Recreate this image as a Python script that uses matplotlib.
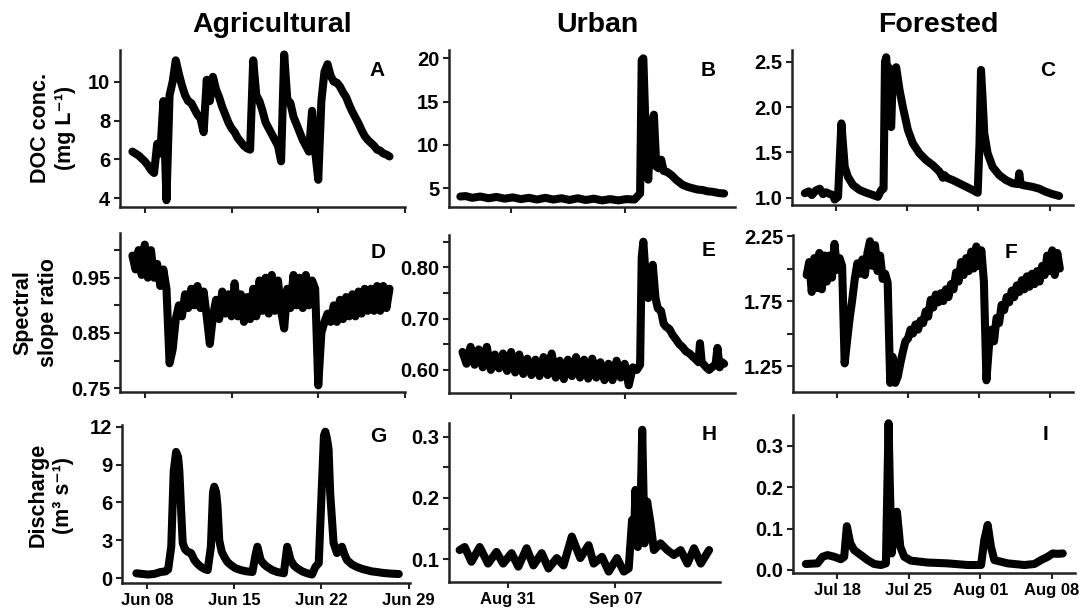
import numpy as np
import matplotlib
matplotlib.use("Agg")
import matplotlib.pyplot as plt
import matplotlib.dates as mdates
from datetime import datetime

plt.rcParams['font.family'] = ['Liberation Sans', 'DejaVu Sans']

W, H = 1092, 612

# ---------------- Agricultural (day of June) ----------------
t_ag = np.arange(7.0, 27.76, 0.25)
doc_ag = [6.4, 6.3, 6.2, 6.05,
          5.9, 5.7, 5.45, 5.3,
          6.8, 6.3, 9.0, 3.9,
          9.3, 10.0, 11.1, 10.4,
          9.8, 9.3, 9.0, 8.9,
          8.6, 8.3, 8.1, 7.4,
          10.1, 9.0, 10.25, 9.6,
          9.2, 8.7, 8.3, 7.9,
          7.6, 7.4, 7.1, 6.9,
          6.7, 6.57, 6.5, 11.1,
          9.3, 9.0, 8.5, 7.9,
          7.6, 7.3, 7.0, 6.7,
          5.9, 11.4, 9.1, 8.9,
          8.2, 7.8, 7.4, 7.0,
          6.7, 6.4, 8.5, 6.4,
          4.95, 9.0, 10.5, 10.9,
          10.3, 10.0, 9.95, 9.75,
          9.45, 9.2, 8.8, 8.45,
          8.15, 7.85, 7.5, 7.2,
          7.0, 6.85, 6.7, 6.5,
          6.45, 6.3, 6.25, 6.15]
ssr_ag = [0.99, 0.965, 1.0, 0.955,
          1.01, 0.95, 1.0, 0.95,
          0.975, 0.935, 0.965, 0.93,
          0.795, 0.82, 0.875, 0.9,
          0.88, 0.92, 0.895, 0.93,
          0.9, 0.935, 0.895, 0.925,
          0.88, 0.83, 0.88, 0.91,
          0.875, 0.925, 0.885, 0.92,
          0.88, 0.94, 0.88, 0.92,
          0.87, 0.915, 0.875, 0.93,
          0.88, 0.945, 0.89, 0.95,
          0.885, 0.955, 0.89, 0.945,
          0.89, 0.858, 0.93, 0.895,
          0.955, 0.9, 0.95, 0.895,
          0.955, 0.9, 0.945, 0.93,
          0.755, 0.85, 0.87, 0.885,
          0.87, 0.9, 0.87, 0.91,
          0.875, 0.915, 0.88, 0.92,
          0.88, 0.925, 0.885, 0.93,
          0.89, 0.93, 0.89, 0.935,
          0.89, 0.935, 0.895, 0.93]
q_ag_t = [7.15, 7.6, 8.1, 8.6, 9.1, 9.5, 9.7, 9.95, 10.15, 10.34, 10.5, 10.6,
          10.74, 10.87, 11.05, 11.27, 11.54, 11.8, 12.05, 12.34, 12.6, 12.87,
          13.13, 13.3, 13.4, 13.55, 13.66, 13.8, 14.0, 14.2, 14.45, 14.73, 15.1,
          15.53, 16.0, 16.46, 16.7, 16.86, 17.12, 17.4, 17.65, 18.05, 18.45,
          18.98, 19.25, 19.52, 19.8, 20.05, 20.45, 20.85, 21.24, 21.51, 21.78,
          22.04, 22.2, 22.31, 22.45, 22.57, 22.7, 22.97, 23.24, 23.45, 23.64,
          23.84, 24.04, 24.44, 24.84, 25.24, 25.63, 26.03, 26.43, 27.0, 27.6, 28.2]
q_ag = [0.4, 0.35, 0.3, 0.35, 0.5, 0.55, 0.7, 2.5, 8.5, 10.0, 9.6, 8.5,
        5.4, 2.8, 2.3, 2.1, 2.0, 1.45, 1.15, 0.9, 0.75, 0.65,
        2.5, 6.8, 7.25, 6.8, 5.7, 3.0, 2.1, 1.7, 1.3, 1.05, 0.8,
        0.65, 0.55, 0.5, 1.8, 2.5, 1.45, 1.1, 0.9, 0.65, 0.5,
        0.4, 2.5, 1.45, 1.0, 0.8, 0.55, 0.4, 0.3, 0.9, 1.2,
        7.5, 11.3, 11.6, 11.0, 10.2, 6.7, 2.8, 2.0, 2.2, 2.5,
        1.9, 1.45, 1.1, 0.9, 0.75, 0.65, 0.55, 0.5, 0.42, 0.37, 0.34]

# ---------------- Urban (days from Aug 31) ----------------
doc_ur_t = [-3.13, -2.8, -2.4, -1.9, -1.4, -0.9, -0.4, 0.1, 0.6, 1.1, 1.6, 2.1,
            2.6, 3.1, 3.6, 4.1, 4.6, 5.1, 5.6, 6.1, 6.6, 7.1, 7.6, 7.95, 8.05,
            8.15, 8.3, 8.45, 8.6, 8.8, 8.95, 9.1, 9.25, 9.4, 9.6, 9.9, 10.16,
            10.57, 10.9, 11.19, 11.5, 11.8, 12.1, 12.41, 12.8, 13.13]
doc_ur = [4.05, 4.1, 3.9, 4.05, 3.85, 4.0, 3.8, 3.95, 3.75, 3.9, 3.7, 3.9,
          3.7, 3.85, 3.65, 3.85, 3.65, 3.8, 3.6, 3.75, 3.6, 3.75, 3.7, 4.4, 19.8,
          20.0, 11.0, 6.0, 11.5, 13.5, 7.5, 7.3, 8.3, 7.0, 6.9, 6.5, 6.0,
          5.4, 5.15, 5.0, 4.85, 4.8, 4.65, 4.6, 4.45, 4.4]
ssr_ur_base = np.arange(-3.0, 7.76, 0.25)
ssr_ur_base_v = [0.635, 0.612, 0.645, 0.610, 0.640, 0.605, 0.645, 0.600,
                 0.630, 0.603, 0.632, 0.598, 0.635, 0.595, 0.630, 0.592,
                 0.622, 0.590, 0.620, 0.588, 0.625, 0.590, 0.632, 0.585,
                 0.618, 0.582, 0.620, 0.588, 0.625, 0.585, 0.620, 0.583,
                 0.622, 0.585, 0.615, 0.580, 0.612, 0.580, 0.618, 0.585,
                 0.612, 0.570, 0.605, 0.600]
ssr_ur_event_t = [7.95, 8.05, 8.15, 8.3, 8.45, 8.6, 8.73, 8.9, 9.04, 9.24, 9.4,
                  9.55, 9.75, 9.96, 10.15, 10.37, 10.55, 10.78, 11.0, 11.19, 11.4,
                  11.55, 11.64, 11.75, 12.0, 12.2, 12.41, 12.6, 12.72, 12.85, 13.0, 13.13]
ssr_ur_event_v = [0.61, 0.82, 0.85, 0.78, 0.74, 0.78, 0.805, 0.74, 0.72, 0.715, 0.69,
                  0.684, 0.68, 0.668, 0.66, 0.65, 0.645, 0.636, 0.632, 0.626, 0.62,
                  0.615, 0.652, 0.615, 0.606, 0.6, 0.606, 0.61, 0.643, 0.605, 0.615, 0.612]
q_ur_t = [-3.14, -2.81, -2.37, -1.83, -1.29, -0.74, -0.31, 0.24, 0.68, 1.22, 1.66,
          2.2, 2.64, 3.18, 3.62, 4.16, 4.71, 5.25, 5.58, 6.12, 6.56, 7.1, 7.54,
          7.86, 8.08, 8.2, 8.3, 8.45, 8.6, 8.74, 8.89, 9.06, 9.28, 9.5, 9.93,
          10.37, 10.8, 11.24, 11.68, 12.11, 12.55, 13.09]
q_ur = [0.115, 0.12, 0.096, 0.12, 0.093, 0.112, 0.093, 0.11, 0.088, 0.118, 0.09,
        0.11, 0.085, 0.102, 0.09, 0.137, 0.102, 0.123, 0.093, 0.104, 0.08, 0.102, 0.08,
        0.085, 0.164, 0.13, 0.213, 0.12, 0.14, 0.311, 0.126, 0.194, 0.159, 0.115, 0.126,
        0.115, 0.107, 0.115, 0.093, 0.118, 0.093, 0.115]

# ---------------- Forested (days from Jul 18) ----------------
doc_fo_t = [-3.09, -2.7, -2.4, -2.0, -1.62, -1.3, -1.0, -0.6, -0.3, -0.15, 0.18,
            0.51, 0.84, 1.16, 1.65, 2.31, 2.96, 3.61, 4.1, 4.43, 4.66, 4.8, 4.92,
            5.05, 5.15, 5.3, 5.41, 5.55, 5.64, 5.9, 6.23, 6.56, 7.05, 7.54, 8.19,
            8.85, 9.5, 10.15, 10.5, 10.65, 10.9, 11.46, 12.45, 13.43, 13.92, 14.1,
            14.25, 14.4, 14.57, 14.9, 15.39, 16.04, 16.7, 17.35, 17.9, 18.01, 18.15,
            18.34, 19.32, 19.97, 20.62, 21.28, 21.93]
doc_fo = [1.05, 1.07, 1.03, 1.08, 1.1, 1.04, 1.06, 1.04, 1.03, 0.98, 1.01,
          1.82, 1.34, 1.23, 1.14, 1.085, 1.055, 1.03, 1.01, 1.085, 1.1, 2.5, 2.55,
          2.3, 2.44, 1.8, 1.78, 2.3, 2.39, 2.44, 2.19, 2.0, 1.75, 1.6, 1.49,
          1.415, 1.36, 1.29, 1.22, 1.25, 1.22, 1.195, 1.14, 1.085, 1.055, 1.6,
          2.41, 2.1, 1.71, 1.49, 1.34, 1.25, 1.195, 1.16, 1.15, 1.27, 1.15,
          1.14, 1.12, 1.10, 1.066, 1.04, 1.02]
t_fo = np.arange(-3.0, 22.01, 0.25)
ssr_fo = [1.95, 2.05, 1.82, 2.08,
          1.85, 2.12, 1.84, 2.10,
          1.9, 2.10, 1.93, 2.19,
          1.99, 2.08, 2.02, 1.27,
          1.45, 1.62, 1.76, 1.92,
          2.04, 1.96, 2.07, 1.95,
          2.12, 2.21, 2.02, 2.18,
          1.98, 2.1, 1.92, 1.96,
          1.89, 1.12, 1.32, 1.12,
          1.17, 1.27, 1.36, 1.44,
          1.46, 1.53, 1.5, 1.57,
          1.53, 1.6, 1.58, 1.67,
          1.63, 1.76, 1.7, 1.8,
          1.74, 1.81, 1.75, 1.84,
          1.78, 1.88, 1.84, 1.97,
          1.9, 2.05, 1.95, 2.08,
          1.98, 2.13, 2.0, 2.17,
          2.02, 2.14, 1.9, 1.14,
          1.4, 1.53, 1.44, 1.62,
          1.58, 1.72, 1.68, 1.78,
          1.74, 1.83, 1.78, 1.87,
          1.82, 1.91, 1.84, 1.94,
          1.86, 1.96, 1.88, 1.98,
          1.9, 2.02, 1.95, 2.1,
          1.98, 2.14, 1.95, 2.12,
          2.0]
q_fo_t = [-3.09, -1.95, -1.45, -0.96, -0.31, 0.34, 0.67, 0.93, 1.26, 1.65, 2.31,
          2.96, 3.61, 4.27, 4.76, 4.9, 5.02, 5.15, 5.32, 5.58, 5.84, 6.17, 6.56,
          7.21, 8.85, 10.81, 12.78, 14.09, 14.41, 14.74, 15.06, 15.39, 16.7, 18.34,
          19.32, 19.97, 20.63, 21.12, 21.61, 22.1]
q_fo = [0.0145, 0.016, 0.032, 0.036, 0.032, 0.026, 0.032, 0.106, 0.065, 0.048, 0.036,
        0.024, 0.0145, 0.012, 0.016, 0.2, 0.355, 0.2, 0.04, 0.105, 0.141, 0.056, 0.032,
        0.0226, 0.018, 0.016, 0.012, 0.012, 0.073, 0.109, 0.056, 0.024, 0.016, 0.012,
        0.0145, 0.024, 0.032, 0.04, 0.039, 0.04]

base_ag = mdates.date2num(datetime(2016, 5, 31))
base_ur = mdates.date2num(datetime(2016, 8, 31))
base_fo = mdates.date2num(datetime(2016, 7, 18))

fig = plt.figure(figsize=(W / 100, H / 100), dpi=100)
ink = '#222222'


def panel(box, base, t, v, xlim, xticks, ylim, yticks, ylabels, letter, lpos, xlab=False):
    l, t0, r, b = box
    ax = fig.add_axes([l / W, 1 - b / H, (r - l) / W, (b - t0) / H])
    ax.plot(base + np.asarray(t), v, color='black', lw=5.8,
            solid_joinstyle='round', solid_capstyle='round')
    ax.set_xlim(base + xlim[0], base + xlim[1])
    ax.set_ylim(*ylim)
    ax.set_xticks([base + d for d in xticks])
    ax.xaxis.set_major_formatter(mdates.DateFormatter('%b %d'))
    ax.set_yticks(yticks)
    ax.set_yticklabels(ylabels)
    for s in ['top', 'right']:
        ax.spines[s].set_visible(False)
    for s in ['left', 'bottom']:
        ax.spines[s].set_linewidth(1.8)
        ax.spines[s].set_color(ink)
    ax.tick_params(axis='both', length=4.5, width=1.5, color=ink, pad=2.5)
    ax.tick_params(axis='y', labelsize=14.5)
    ax.tick_params(axis='x', labelsize=12, labelbottom=xlab, pad=3)
    for lb in ax.get_xticklabels() + ax.get_yticklabels():
        lb.set_fontweight('bold')
        lb.set_color('black')
    fig.text(lpos[0] / W, 1 - lpos[1] / H, letter, ha='center', va='center',
             fontsize=15, fontweight='bold')
    return ax


ag_ticks = [8, 15, 22, 29]
ur_ticks = [0, 7]
fo_ticks = [0, 7, 14, 21]

panel((120, 50, 405, 207), base_ag, t_ag, doc_ag, (6.0, 29.0), ag_ticks,
      (3.55, 11.63), [4, 6, 8, 10], ['4', '6', '8', '10'], 'A', (377, 71))
panel((449, 50, 735, 207), base_ur, doc_ur_t, doc_ur, (-3.83, 13.8), ur_ticks,
      (2.84, 20.96), [5, 10, 15, 20], ['5', '10', '15', '20'], 'B', (708, 71))
panel((792, 50, 1073, 205), base_fo, doc_fo_t, doc_fo, (-4.35, 23.3), fo_ticks,
      (0.92, 2.63), [1.0, 1.5, 2.0, 2.5], ['1.0', '1.5', '2.0', '2.5'], 'C', (1048, 71))

panel((120, 233, 405, 392), base_ag, t_ag, ssr_ag, (6.0, 29.0), ag_ticks,
      (0.743, 1.031), [0.75, 0.80, 0.85, 0.90, 0.95, 1.00],
      ['0.75', '', '0.85', '', '0.95', ''], 'D', (378, 252))
ssr_ur_t = list(ssr_ur_base) + ssr_ur_event_t
ssr_ur = ssr_ur_base_v + ssr_ur_event_v
panel((449, 235, 735, 393), base_ur, ssr_ur_t, ssr_ur, (-3.83, 13.8), ur_ticks,
      (0.555, 0.863), [0.60, 0.65, 0.70, 0.75, 0.80, 0.85],
      ['0.60', '', '0.70', '', '0.80', ''], 'E', (709, 250))
panel((793, 235, 1073, 392), base_fo, t_fo, ssr_fo, (-4.35, 23.3), fo_ticks,
      (1.05, 2.258), [1.25, 1.5, 1.75, 2.0, 2.25],
      ['1.25', '', '1.75', '', '2.25'], 'F', (1011, 252))

panel((122, 425, 410, 583), base_ag, q_ag_t, q_ag, (6.0, 29.1), ag_ticks,
      (-0.37, 12.13), [0, 3, 6, 9, 12], ['0', '3', '6', '9', '12'], 'G', (378, 437), xlab=True)
panel((449, 423, 720, 582), base_ur, q_ur_t, q_ur, (-3.83, 13.8), ur_ticks,
      (0.063, 0.322), [0.1, 0.15, 0.2, 0.25, 0.3], ['0.1', '', '0.2', '', '0.3'],
      'H', (709, 434), xlab=True)
panel((793, 415, 1075, 573), base_fo, q_fo_t, q_fo, (-4.35, 23.3), fo_ticks,
      (-0.0073, 0.375), [0.0, 0.1, 0.2, 0.3], ['0.0', '0.1', '0.2', '0.3'],
      'I', (1045, 435), xlab=True)

# column titles
for txt, x in [('Agricultural', 272), ('Urban', 597), ('Forested', 938)]:
    fig.text(x / W, 1 - 32 / H, txt, ha='center', va='baseline',
             fontsize=20.5, fontweight='bold')

# row labels
for txt, x, y in [('DOC conc.\n(mg L\u207b\u00b9)', 53, 128),
                  ('Spectral\nslope ratio', 36, 313),
                  ('Discharge\n(m\u00b3 s\u207b\u00b9)', 51, 495)]:
    fig.text(x / W, 1 - y / H, txt, rotation=90, ha='center', va='center',
             fontsize=15.5, fontweight='bold', linespacing=1.3, multialignment='center')

fig.savefig('out.png', dpi=100)
